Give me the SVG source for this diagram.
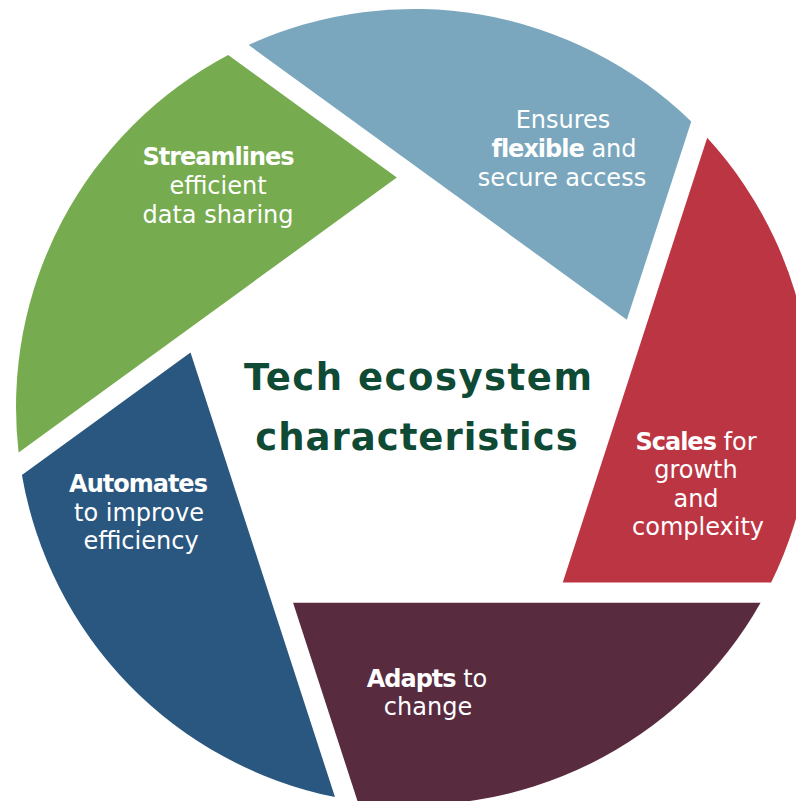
<svg xmlns="http://www.w3.org/2000/svg" xmlns:xlink="http://www.w3.org/1999/xlink" width="796" height="801" viewBox="0 0 796 801">
<style>
.lbl{font-family:"DejaVu Sans","Liberation Sans",sans-serif;font-size:24px;fill:#ffffff;text-anchor:middle}
.b{font-weight:bold;letter-spacing:-1px}
.title{font-family:"DejaVu Sans","Liberation Sans",sans-serif;font-weight:bold;font-size:37px;fill:#0f4a35;text-anchor:middle}
</style>
<defs>
<path id="petal" d="M 396.8 177.6 L 228.2 55.1 A 398 398 0 0 0 18.6 452.4 Z"/>
</defs>
<rect width="796" height="801" fill="#ffffff"/>
<g id="seg-streamlines">
<use href="#petal" xlink:href="#petal" fill="#76ab4f"/>
<text class="lbl" x="218" y="165"><tspan class="b">Streamlines</tspan></text>
<text class="lbl" x="218" y="194">efficient</text>
<text class="lbl" x="218" y="223">data sharing</text>
</g>
<g id="seg-ensures">
<use href="#petal" xlink:href="#petal" fill="#7aa7bd" transform="rotate(72 414 407)"/>
<text class="lbl" x="563" y="128">Ensures</text>
<text class="lbl" x="564" y="157"><tspan class="b">flexible</tspan> and</text>
<text class="lbl" x="562" y="186">secure access</text>
</g>
<g id="seg-scales">
<use href="#petal" xlink:href="#petal" fill="#bc3543" transform="rotate(144 414 407)"/>
<text class="lbl" x="696" y="450"><tspan class="b">Scales</tspan> for</text>
<text class="lbl" x="696" y="478">growth</text>
<text class="lbl" x="696" y="507">and</text>
<text class="lbl" x="698" y="535">complexity</text>
</g>
<g id="seg-adapts">
<use href="#petal" xlink:href="#petal" fill="#582b3f" transform="rotate(216 414 407)"/>
<text class="lbl" x="427" y="687"><tspan class="b">Adapts</tspan> to</text>
<text class="lbl" x="428" y="715">change</text>
</g>
<g id="seg-automates">
<use href="#petal" xlink:href="#petal" fill="#2a577f" transform="rotate(288 414 407)"/>
<text class="lbl" x="138" y="492"><tspan class="b">Automates</tspan></text>
<text class="lbl" x="139" y="521">to improve</text>
<text class="lbl" x="141" y="549">efficiency</text>
</g>
<g id="title">
<text class="title" x="418.7" y="390" letter-spacing="1.5">Tech ecosystem</text>
<text class="title" x="417" y="450" letter-spacing="1">characteristics</text>
</g>
</svg>
